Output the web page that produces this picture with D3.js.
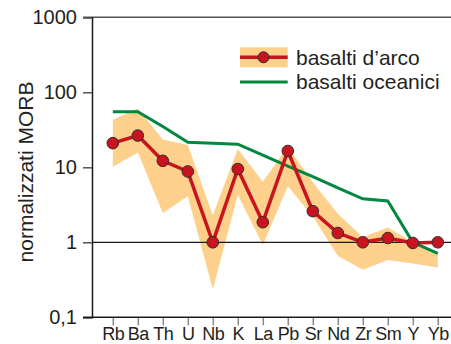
<!DOCTYPE html>
<html><head><meta charset="utf-8">
<script src="https://cdn.jsdelivr.net/npm/d3@7/dist/d3.min.js"></script>
<style>
html,body{margin:0;padding:0;background:#fff;}
svg{display:block;font-family:"Liberation Sans",Arial,Helvetica,sans-serif;}
</style></head>
<body>
<svg id="chart" width="451" height="344"></svg>
<script>
const categories = ["Rb","Ba","Th","U","Nb","K","La","Pb","Sr","Nd","Zr","Sm","Y","Yb"];
const arcMid  = [21, 26.5, 12.2, 8.8, 1.0, 9.5, 1.85, 16.5, 2.6, 1.33, 1.0, 1.14, 0.98, 1.0];
const arcHigh = [43, 61, 23.5, 19.8, 2.3, 17.5, 6.4, 18.8, 6.3, 2.4, 1.17, 1.58, 1.0, 0.7];
const arcLow  = [10.2, 15.7, 2.45, 4.1, 0.236, 4.3, 0.92, 5.6, 2.2, 0.66, 0.43, 0.58, 0.52, 0.46];
const oceanic = [55, 55, 35, 21.5, 21, 20.3, 14.5, 10.4, 7.5, 5.3, 3.8, 3.55, 1.0, 0.71];
const yTicks = [0.1, 1, 10, 100, 1000];
const yTickLabels = ["0,1", "1", "10", "100", "1000"];
const legendLabels = ["basalti d\u2019arco", "basalti oceanici"];
const yTitle = "normalizzati MORB";

(function(){
const svg = d3.select("#chart");
const pLeft = 92, pRight = 451, pTop = 17.3, pBottom = 317.3;
const x = d3.scalePoint().domain(categories).range([112.8, 437.8]);
const y = d3.scaleLog().domain([0.1, 1000]).range([pBottom, pTop]);

const cOrange = "#fdd08c", cRed = "#c8141e", cGreen = "#00883f";

// band
const band = d3.area()
  .x((d,i) => x(categories[i]))
  .y0((d,i) => y(arcLow[i]))
  .y1((d,i) => y(arcHigh[i]));
svg.append("path").datum(categories).attr("d", band).attr("fill", cOrange);

// reference line at 1
svg.append("line").attr("x1", pLeft).attr("x2", pRight).attr("y1", y(1)).attr("y2", y(1))
  .attr("stroke", "#1a1a1a").attr("stroke-width", 1.3);

// top border
svg.append("line").attr("x1", 83).attr("x2", pRight).attr("y1", pTop).attr("y2", pTop)
  .attr("stroke", "#555").attr("stroke-width", 1.5);

// oceanic line
const lineO = d3.line().x((d,i) => x(categories[i])).y(d => y(d));
svg.append("path").datum(oceanic).attr("d", lineO).attr("fill", "none")
  .attr("stroke", cGreen).attr("stroke-width", 3);

// arc line
svg.append("path").datum(arcMid).attr("d", lineO).attr("fill", "none")
  .attr("stroke", cRed).attr("stroke-width", 3.5).attr("stroke-linejoin", "miter");
svg.selectAll("circle.pt").data(arcMid).enter().append("circle").attr("class", "pt")
  .attr("cx", (d,i) => x(categories[i])).attr("cy", d => y(d)).attr("r", 5.8)
  .attr("fill", cRed).attr("stroke", "#3a2a2a").attr("stroke-width", 1);

// y axis
const yAxis = d3.axisLeft(y).tickValues(yTicks).tickFormat((d,i) => yTickLabels[i])
  .tickSize(9).tickPadding(6);
const gy = svg.append("g").attr("transform", `translate(${pLeft},0)`).call(yAxis);
gy.select(".domain").attr("stroke", "#1a1a1a").attr("stroke-width", 1.5);
gy.selectAll(".tick line").attr("stroke", "#555").attr("stroke-width", 1.5);
gy.selectAll(".tick text").attr("font-size", 20).attr("fill", "#231f20")
  .attr("font-family", "'Liberation Sans',Arial,sans-serif");

// x axis
const xAxis = d3.axisBottom(x).tickSize(8).tickPadding(2);
const gx = svg.append("g").attr("transform", `translate(0,${pBottom})`).call(xAxis);
gx.select(".domain").remove();
gx.append("line").attr("x1", 83).attr("x2", pRight).attr("y1", 0).attr("y2", 0)
  .attr("stroke", "#1a1a1a").attr("stroke-width", 1.5);
gx.selectAll(".tick line").attr("stroke", "#888").attr("stroke-width", 1.5);
gx.selectAll(".tick text").attr("font-size", 18).attr("fill", "#231f20")
  .attr("font-family", "'Liberation Sans',Arial,sans-serif").attr("letter-spacing", "-0.4");

// y title
svg.append("text").attr("transform", "translate(33,172) rotate(-90)")
  .attr("text-anchor", "middle").attr("font-size", 21).attr("fill", "#231f20")
  .text(yTitle);

// legend
const lg = svg.append("g");
lg.append("rect").attr("x", 240).attr("y", 47.3).attr("width", 47.7).attr("height", 20).attr("fill", cOrange);
lg.append("line").attr("x1", 240).attr("x2", 287.7).attr("y1", 57.3).attr("y2", 57.3)
  .attr("stroke", cRed).attr("stroke-width", 3.5);
lg.append("circle").attr("cx", 263.5).attr("cy", 57.3).attr("r", 5.5)
  .attr("fill", cRed).attr("stroke", "#3a2a2a").attr("stroke-width", 1);
lg.append("line").attr("x1", 240).attr("x2", 287.7).attr("y1", 82).attr("y2", 82)
  .attr("stroke", cGreen).attr("stroke-width", 3);
lg.selectAll("text").data(legendLabels).enter().append("text")
  .attr("x", 296).attr("y", (d,i) => 64.5 + i*24.5)
  .attr("font-size", 21).attr("fill", "#231f20").text(d => d);
})();
</script>
</body></html>
